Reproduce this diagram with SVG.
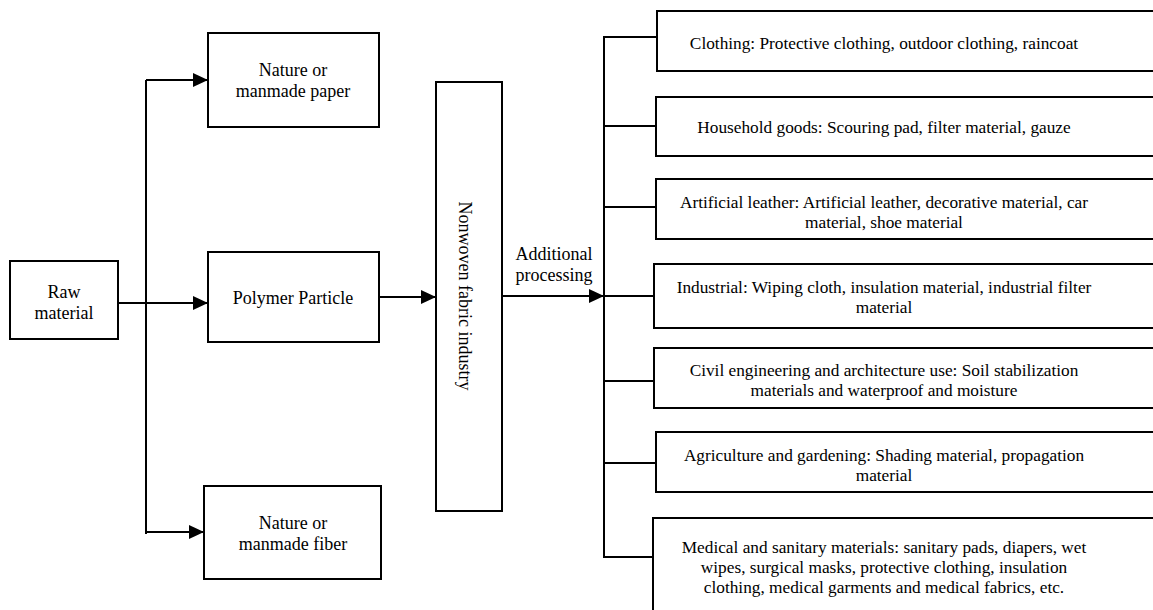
<svg xmlns="http://www.w3.org/2000/svg" width="1153" height="610" viewBox="0 0 1153 610">
<style>
.box{fill:#fff;stroke:#000;stroke-width:2}
.ln{fill:none;stroke:#000;stroke-width:2}
.t{font-family:'Liberation Serif',serif;font-size:18px;fill:#000;text-anchor:middle}
.r{font-size:17.3px}
</style>
<defs>
<marker id="arr" markerUnits="userSpaceOnUse" markerWidth="16" markerHeight="16" refX="15" refY="7" orient="auto">
<path d="M0,0 L15,7 L0,14 z" fill="#000"/>
</marker>
</defs>
<rect width="1153" height="610" fill="#fff"/>
<g id="connectors">
<line class="ln" x1="146" y1="80" x2="146" y2="534"/>
<line class="ln" x1="146" y1="80" x2="208" y2="80" marker-end="url(#arr)"/>
<line class="ln" x1="118" y1="303" x2="208" y2="303" marker-end="url(#arr)"/>
<line class="ln" x1="146" y1="532" x2="204" y2="532" marker-end="url(#arr)"/>
<line class="ln" x1="379" y1="297" x2="436" y2="297" marker-end="url(#arr)"/>
<line class="ln" x1="502" y1="296" x2="604" y2="296" marker-end="url(#arr)"/>
<line class="ln" x1="604" y1="36" x2="604" y2="558"/>
<line class="ln" x1="603" y1="37" x2="657" y2="37"/>
<line class="ln" x1="603" y1="126" x2="656" y2="126"/>
<line class="ln" x1="603" y1="207" x2="656" y2="207"/>
<line class="ln" x1="604" y1="296" x2="654" y2="296"/>
<line class="ln" x1="603" y1="381" x2="654" y2="381"/>
<line class="ln" x1="603" y1="463" x2="656" y2="463"/>
<line class="ln" x1="603" y1="557" x2="653" y2="557"/>
</g>
<g id="raw">
<rect class="box" x="10" y="261" width="108" height="78"/>
<text class="t" font-family="Liberation Serif, serif" x="64" y="298">Raw</text>
<text class="t" font-family="Liberation Serif, serif" x="64" y="319">material</text>
</g>
<g id="paper">
<rect class="box" x="208" y="33" width="171" height="94"/>
<text class="t" font-family="Liberation Serif, serif" x="293" y="76">Nature or</text>
<text class="t" font-family="Liberation Serif, serif" x="293" y="97">manmade paper</text>
</g>
<g id="polymer">
<rect class="box" x="208" y="252" width="171" height="90"/>
<text class="t" font-family="Liberation Serif, serif" x="293" y="304">Polymer Particle</text>
</g>
<g id="fiber">
<rect class="box" x="204" y="486" width="177" height="93"/>
<text class="t" font-family="Liberation Serif, serif" x="293" y="529">Nature or</text>
<text class="t" font-family="Liberation Serif, serif" x="293" y="550">manmade fiber</text>
</g>
<g id="nonwoven">
<rect class="box" x="436" y="82" width="66" height="429"/>
<text class="t" font-family="Liberation Serif, serif" transform="translate(459,296) rotate(90)">Nonwoven fabric industry</text>
</g>
<g id="label-additional">
<text class="t" font-family="Liberation Serif, serif" x="554" y="260">Additional</text>
<text class="t" font-family="Liberation Serif, serif" x="554" y="281">processing</text>
</g>
<g id="clothing">
<rect class="box" x="657" y="11" width="510" height="60"/>
<text class="t r" font-family="Liberation Serif, serif" x="884" y="48.5">Clothing: Protective clothing, outdoor clothing, raincoat</text>
</g>
<g id="household">
<rect class="box" x="656" y="97" width="510" height="59"/>
<text class="t r" font-family="Liberation Serif, serif" x="884" y="132.5">Household goods: Scouring pad, filter material, gauze</text>
</g>
<g id="leather">
<rect class="box" x="656" y="179" width="510" height="60"/>
<text class="t r" font-family="Liberation Serif, serif" x="884" y="207.5">Artificial leather: Artificial leather, decorative material, car</text>
<text class="t r" font-family="Liberation Serif, serif" x="884" y="227.5">material, shoe material</text>
</g>
<g id="industrial">
<rect class="box" x="654" y="264" width="512" height="64"/>
<text class="t r" font-family="Liberation Serif, serif" x="884" y="292.5">Industrial: Wiping cloth, insulation material, industrial filter</text>
<text class="t r" font-family="Liberation Serif, serif" x="884" y="313">material</text>
</g>
<g id="civil">
<rect class="box" x="654" y="348" width="512" height="60"/>
<text class="t r" font-family="Liberation Serif, serif" x="884" y="375.5">Civil engineering and architecture use: Soil stabilization</text>
<text class="t r" font-family="Liberation Serif, serif" x="884" y="395.5">materials and waterproof and moisture</text>
</g>
<g id="agriculture">
<rect class="box" x="656" y="432" width="510" height="60"/>
<text class="t r" font-family="Liberation Serif, serif" x="884" y="460.5">Agriculture and gardening: Shading material, propagation</text>
<text class="t r" font-family="Liberation Serif, serif" x="884" y="480.5">material</text>
</g>
<g id="medical">
<rect class="box" x="653" y="518" width="513" height="110"/>
<text class="t r" font-family="Liberation Serif, serif" x="884" y="553">Medical and sanitary materials: sanitary pads, diapers, wet</text>
<text class="t r" font-family="Liberation Serif, serif" x="884" y="573">wipes, surgical masks, protective clothing, insulation</text>
<text class="t r" font-family="Liberation Serif, serif" x="884" y="593">clothing, medical garments and medical fabrics, etc.</text>
</g>
</svg>
